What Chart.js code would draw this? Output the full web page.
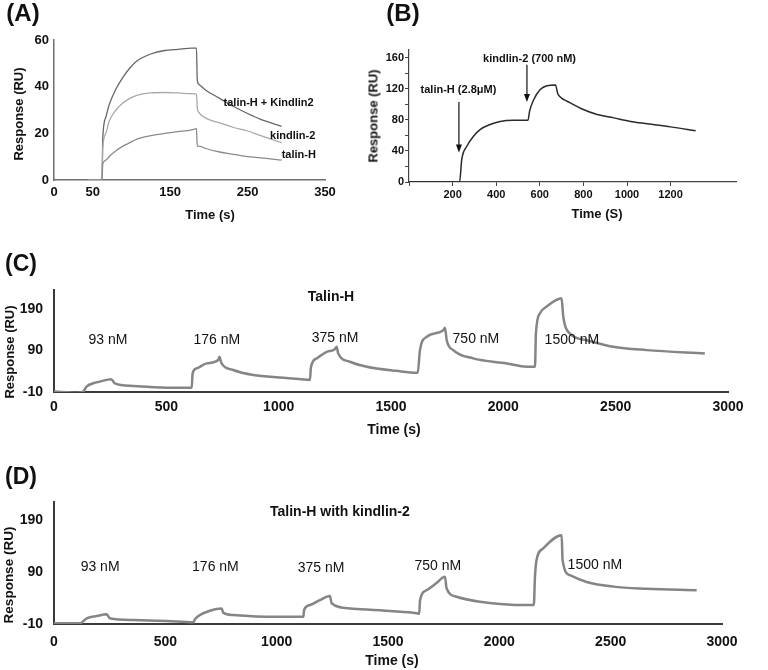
<!DOCTYPE html>
<html>
<head>
<meta charset="utf-8">
<script src="https://cdn.jsdelivr.net/npm/chart.js@4.4.1/dist/chart.umd.min.js"></script>
<style>
  html, body { margin: 0; padding: 0; background: #fff; }
  #wrap { position: relative; width: 768px; height: 670px; overflow: hidden; font-family: "Liberation Sans", Arial, sans-serif; color: #111; }
  #wrap canvas { position: absolute; }
  .txt { position: absolute; white-space: nowrap; line-height: 1; font-weight: bold; }
</style>
</head>
<body>
<div id="wrap">
  <canvas id="chart-a" width="380" height="225" style="left:0;top:0"></canvas>
  <canvas id="chart-b" width="388" height="225" style="left:380px;top:0"></canvas>
  <canvas id="chart-c" width="768" height="200" style="left:0;top:250px"></canvas>
  <canvas id="chart-d" width="768" height="210" style="left:0;top:460px"></canvas>
</div>
<script>
// ---- (A) talin-H / kindlin-2 single injections ----
var aTime = [44, 62, 63, 67, 71, 80, 89, 98, 107, 125, 143, 160, 178, 184, 185, 187, 196, 214, 232, 250, 267, 294];
var aTalinKindlin = [0, 0, 18, 27, 32, 39, 44, 48, 51, 54, 55.5, 56, 56.5, 56.5, 43, 41, 38.5, 35, 31.5, 28.5, 26, 23];
var aKindlin = [0, 0, 14, 20, 25, 30, 33, 35, 36.3, 37.3, 37.5, 37.3, 37, 36.8, 31, 29, 26.5, 24.5, 22.5, 21, 19, 16];
var aTalin = [0, 0, 7, 8.5, 10, 12.5, 14.5, 16, 17.5, 19, 20, 20.7, 21.5, 22, 14.5, 14.5, 13.5, 12, 11, 10, 9.5, 8.5];
var aTicks = [0, 50, 150, 250, 350];

// ---- (B) talin-H then kindlin-2 ----
var bTime = [0, 232, 242, 265, 296, 326, 372, 418, 480, 546, 553, 572, 602, 633, 672, 682, 700, 725, 786, 863, 939, 1016, 1093, 1200, 1315];
var bResp = [0, 0, 29, 46, 59, 67.5, 74, 78, 79.5, 79.5, 91, 106, 119, 124, 125, 114, 108, 104, 95, 87, 82.6, 78, 75, 71, 66];
var bYTicks = [0, 20, 40, 60, 80, 100, 120, 140, 160];

// ---- (C) Talin-H titration ----
var cTime = [0, 101, 130, 145, 175, 205, 254, 271, 353, 501, 613, 617, 635, 680, 731, 736, 746, 798, 887, 1021, 1102, 1139,
             1144, 1169, 1214, 1250, 1258, 1265, 1317, 1392, 1525, 1614, 1619, 1629, 1659, 1733, 1740, 1748, 1777, 1866, 2015,
             2104, 2141, 2145, 2163, 2193, 2259, 2267, 2296, 2371, 2489, 2638, 2897];
var cResp = [-9, -12, -9, 3, 11, 15, 21, 11, 4.5, 0.5, 0.5, 35, 47, 59, 67, 75, 59, 43, 31, 24.5, 20.6, 19,
             51, 71, 87, 93, 99, 83, 63, 51, 41, 36.5, 36.5, 91, 123, 139, 145, 115, 91, 71, 59,
             51, 51, 131, 180, 196, 216, 171, 131, 115, 99, 91, 83];

// ---- (D) Talin-H titration with kindlin-2 ----
var dTime = [0, 117, 147, 192, 237, 251, 356, 506, 626, 633, 656, 700, 753, 760, 805, 955, 1120, 1123, 1150, 1194, 1239,
             1247, 1329, 1509, 1629, 1640, 1644, 1673, 1718, 1756, 1763, 1808, 1913, 2122, 2155, 2160, 2167, 2197, 2280,
             2284, 2317, 2392, 2512, 2661, 2886];
var dResp = [-8.7, -8.7, 1, 5.4, 8.6, 1, -2.3, -4.2, -6.7, -1, 7.3, 15.6, 20, 11.7, 7.3, 4, 4, 17, 26.5, 36, 44,
             30, 20, 15, 10.6, 9.6, 36, 55, 69, 81, 59, 42.5, 33, 26.5, 26.5, 81, 113, 135.6, 161,
             113, 84, 71, 62, 58, 55];

var concLabels = ["93 nM", "176 nM", "375 nM", "750 nM", "1500 nM"];
var titrationTicks = [-10, 90, 190];

var FONT = '"Liberation Sans", Arial, sans-serif';

function pts(xs, ys) {
    return xs.map(function (t, i) { return {x: t, y: ys[i]}; });
}
function tickList(values) {
    return values.map(function (v) { return {value: v}; });
}
function plain(v) { return String(v); }

// text + arrows placed in data units
var notesPlugin = {
    id: 'notes',
    afterDatasetsDraw: function (chart, args, opts) {
        var ctx = chart.ctx, x = chart.scales.x, y = chart.scales.y;
        ctx.save();
        (opts.items || []).forEach(function (n) {
            ctx.font = n.font;
            ctx.fillStyle = '#111';
            ctx.textAlign = n.align || 'center';
            ctx.textBaseline = 'middle';
            ctx.fillText(n.text, x.getPixelForValue(n.x), y.getPixelForValue(n.y));
        });
        (opts.arrows || []).forEach(function (a) {
            var px = x.getPixelForValue(a.x);
            var y1 = y.getPixelForValue(a.from), y2 = y.getPixelForValue(a.to);
            ctx.strokeStyle = '#111';
            ctx.fillStyle = '#111';
            ctx.lineWidth = 1.2;
            ctx.beginPath();
            ctx.moveTo(px, y1);
            ctx.lineTo(px, y2 - 6);
            ctx.stroke();
            ctx.beginPath();
            ctx.moveTo(px - 3, y2 - 8);
            ctx.lineTo(px + 3, y2 - 8);
            ctx.lineTo(px, y2);
            ctx.closePath();
            ctx.fill();
        });
        ctx.restore();
    }
};

function line(data, color, width) {
    return {
        data: data,
        borderColor: color,
        borderWidth: width,
        pointRadius: 0,
        fill: false,
        cubicInterpolationMode: 'monotone'
    };
}

function baseOptions(pad, notes) {
    return {
        responsive: false,
        devicePixelRatio: 1,
        animation: false,
        events: [],
        layout: {padding: pad},
        plugins: {legend: {display: false}, tooltip: {enabled: false}, notes: notes}
    };
}

// (A)
var optA = baseOptions({left: 0, right: 55, top: 40, bottom: 0}, {
    items: [
        {text: 'talin-H + Kindlin2', x: 219, y: 33, align: 'left', font: 'bold 11px ' + FONT},
        {text: 'kindlin-2', x: 279, y: 19, align: 'left', font: 'bold 11px ' + FONT},
        {text: 'talin-H', x: 294, y: 10.7, align: 'left', font: 'bold 11px ' + FONT}
    ]
});
optA.scales = {
    x: {
        type: 'linear', min: 0, max: 350,
        afterFit: function (s) { s.height = 45; },
        afterBuildTicks: function (s) { s.ticks = tickList(aTicks); },
        grid: {display: false, drawTicks: false},
        border: {display: true, color: '#6f6f6f', width: 1.5},
        ticks: {color: '#111', padding: 5, maxRotation: 0, callback: plain, font: {family: FONT, size: 13, weight: 'bold'}}
    },
    y: {
        min: 0, max: 60,
        afterFit: function (s) { s.width = 54; },
        grid: {display: false, drawTicks: false},
        border: {display: true, color: '#6f6f6f', width: 1.5},
        ticks: {stepSize: 20, color: '#111', padding: 5, font: {family: FONT, size: 13, weight: 'bold'}}
    }
};
new Chart(document.getElementById('chart-a'), {
    type: 'line',
    data: {datasets: [
        line(pts(aTime, aTalin), '#8a8a8a', 1.3),
        line(pts(aTime, aKindlin), '#a9a9a9', 1.3),
        line(pts(aTime, aTalinKindlin), '#666666', 1.3)
    ]},
    options: optA,
    plugins: [notesPlugin]
});

// (B)
var optB = baseOptions({left: 0, right: 32, top: 50, bottom: 0}, {
    items: [
        {text: 'talin-H (2.8\u03bcM)', x: 227, y: 119, font: 'bold 11px ' + FONT},
        {text: 'kindlin-2 (700 nM)', x: 553, y: 159, font: 'bold 11px ' + FONT}
    ],
    arrows: [
        {x: 229, from: 103, to: 38},
        {x: 541, from: 151, to: 103}
    ]
});
optB.scales = {
    x: {
        type: 'linear', min: 0, max: 1500,
        afterFit: function (s) { s.height = 43; },
        afterBuildTicks: function (s) { s.ticks = s.ticks.filter(function (t) { return t.value % 200 === 0; }); },
        grid: {drawOnChartArea: false, drawTicks: true, tickLength: 4, color: '#444'},
        border: {display: true, color: '#444', width: 1.2},
        ticks: {
            stepSize: 200, color: '#111', padding: 2, maxRotation: 0,
            font: {family: FONT, size: 11, weight: 'bold'},
            callback: function (v) { return v === 0 ? '' : String(v); }
        }
    },
    y: {
        min: 0, max: 170,
        afterFit: function (s) { s.width = 29; },
        afterBuildTicks: function (s) { s.ticks = tickList(bYTicks); },
        grid: {drawOnChartArea: false, drawTicks: true, tickLength: 4, color: '#444'},
        border: {display: true, color: '#444', width: 1.2},
        ticks: {
            color: '#111', padding: 1,
            font: {family: FONT, size: 11, weight: 'bold'},
            callback: function (v) { return v % 40 === 0 ? String(v) : ''; }
        }
    }
};
new Chart(document.getElementById('chart-b'), {
    type: 'line',
    data: {datasets: [line(pts(bTime, bResp), '#2a2a2a', 1.5)]},
    options: optB,
    plugins: [notesPlugin]
});

// (C) and (D) share the same layout
function titrationOptions(pad, xHeight, yMax, xPad, notes) {
    var o = baseOptions(pad, notes);
    o.scales = {
        x: {
            type: 'linear', min: 0, max: 3000,
            afterFit: function (s) { s.height = xHeight; },
            grid: {display: false, drawTicks: false},
            border: {display: true, color: '#3a3a3a', width: 2},
            ticks: {stepSize: 500, color: '#111', padding: xPad, maxRotation: 0, callback: plain, font: {family: FONT, size: 14, weight: 'bold'}}
        },
        y: {
            min: -10, max: yMax,
            afterFit: function (s) { s.width = 54; },
            afterBuildTicks: function (s) { s.ticks = tickList(titrationTicks); },
            grid: {display: false, drawTicks: false},
            border: {display: true, color: '#3a3a3a', width: 2},
            ticks: {color: '#111', padding: 11, callback: plain, font: {family: FONT, size: 14, weight: 'bold'}}
        }
    };
    return o;
}

var regular = '14px ' + FONT;
new Chart(document.getElementById('chart-c'), {
    type: 'line',
    data: {datasets: [line(pts(cTime, cResp), '#858585', 2.5)]},
    options: titrationOptions({left: 0, right: 40, top: 40, bottom: 0}, 58, 236, 7, {
        items: [
            {text: 'Talin-H', x: 1233, y: 219, font: 'bold 14px ' + FONT},
            {text: concLabels[0], x: 240, y: 115, font: regular},
            {text: concLabels[1], x: 725, y: 115, font: regular},
            {text: concLabels[2], x: 1251, y: 120, font: regular},
            {text: concLabels[3], x: 1878, y: 118, font: regular},
            {text: concLabels[4], x: 2305, y: 115, font: regular}
        ]
    }),
    plugins: [notesPlugin]
});

new Chart(document.getElementById('chart-d'), {
    type: 'line',
    data: {datasets: [line(pts(dTime, dResp), '#858585', 2.5)]},
    options: titrationOptions({left: 0, right: 46, top: 42, bottom: 0}, 46, 225, 10, {
        items: [
            {text: 'Talin-H with kindlin-2', x: 1284, y: 205, font: 'bold 14px ' + FONT},
            {text: concLabels[0], x: 207, y: 100, font: regular},
            {text: concLabels[1], x: 725, y: 100, font: regular},
            {text: concLabels[2], x: 1199, y: 98, font: regular},
            {text: concLabels[3], x: 1724, y: 101, font: regular},
            {text: concLabels[4], x: 2429, y: 103, font: regular}
        ]
    }),
    plugins: [notesPlugin]
});

// panel letters and axis titles
function addText(text, cx, cy, size, rotate) {
    var el = document.createElement('div');
    el.className = 'txt';
    el.textContent = text;
    el.style.fontSize = size + 'px';
    el.style.left = cx + 'px';
    el.style.top = cy + 'px';
    el.style.transform = 'translate(-50%, -50%)' + (rotate ? ' rotate(-90deg)' : '');
    document.getElementById('wrap').appendChild(el);
}
addText('(A)', 23, 13, 24);
addText('(B)', 403, 13, 24);
addText('(C)', 21, 263, 23);
addText('(D)', 21, 476, 23);
addText('Response (RU)', 17.5, 114, 13, true);
addText('Time (s)', 210, 214, 13);
addText('Response (RU)', 372.5, 116, 13, true);
addText('Time (S)', 597, 213, 13);
addText('Response (RU)', 9, 352, 13, true);
addText('Time (s)', 394, 429, 14);
addText('Response (RU)', 9, 575, 13.5, true);
addText('Time (s)', 392, 660, 14);
</script>
</body>
</html>
